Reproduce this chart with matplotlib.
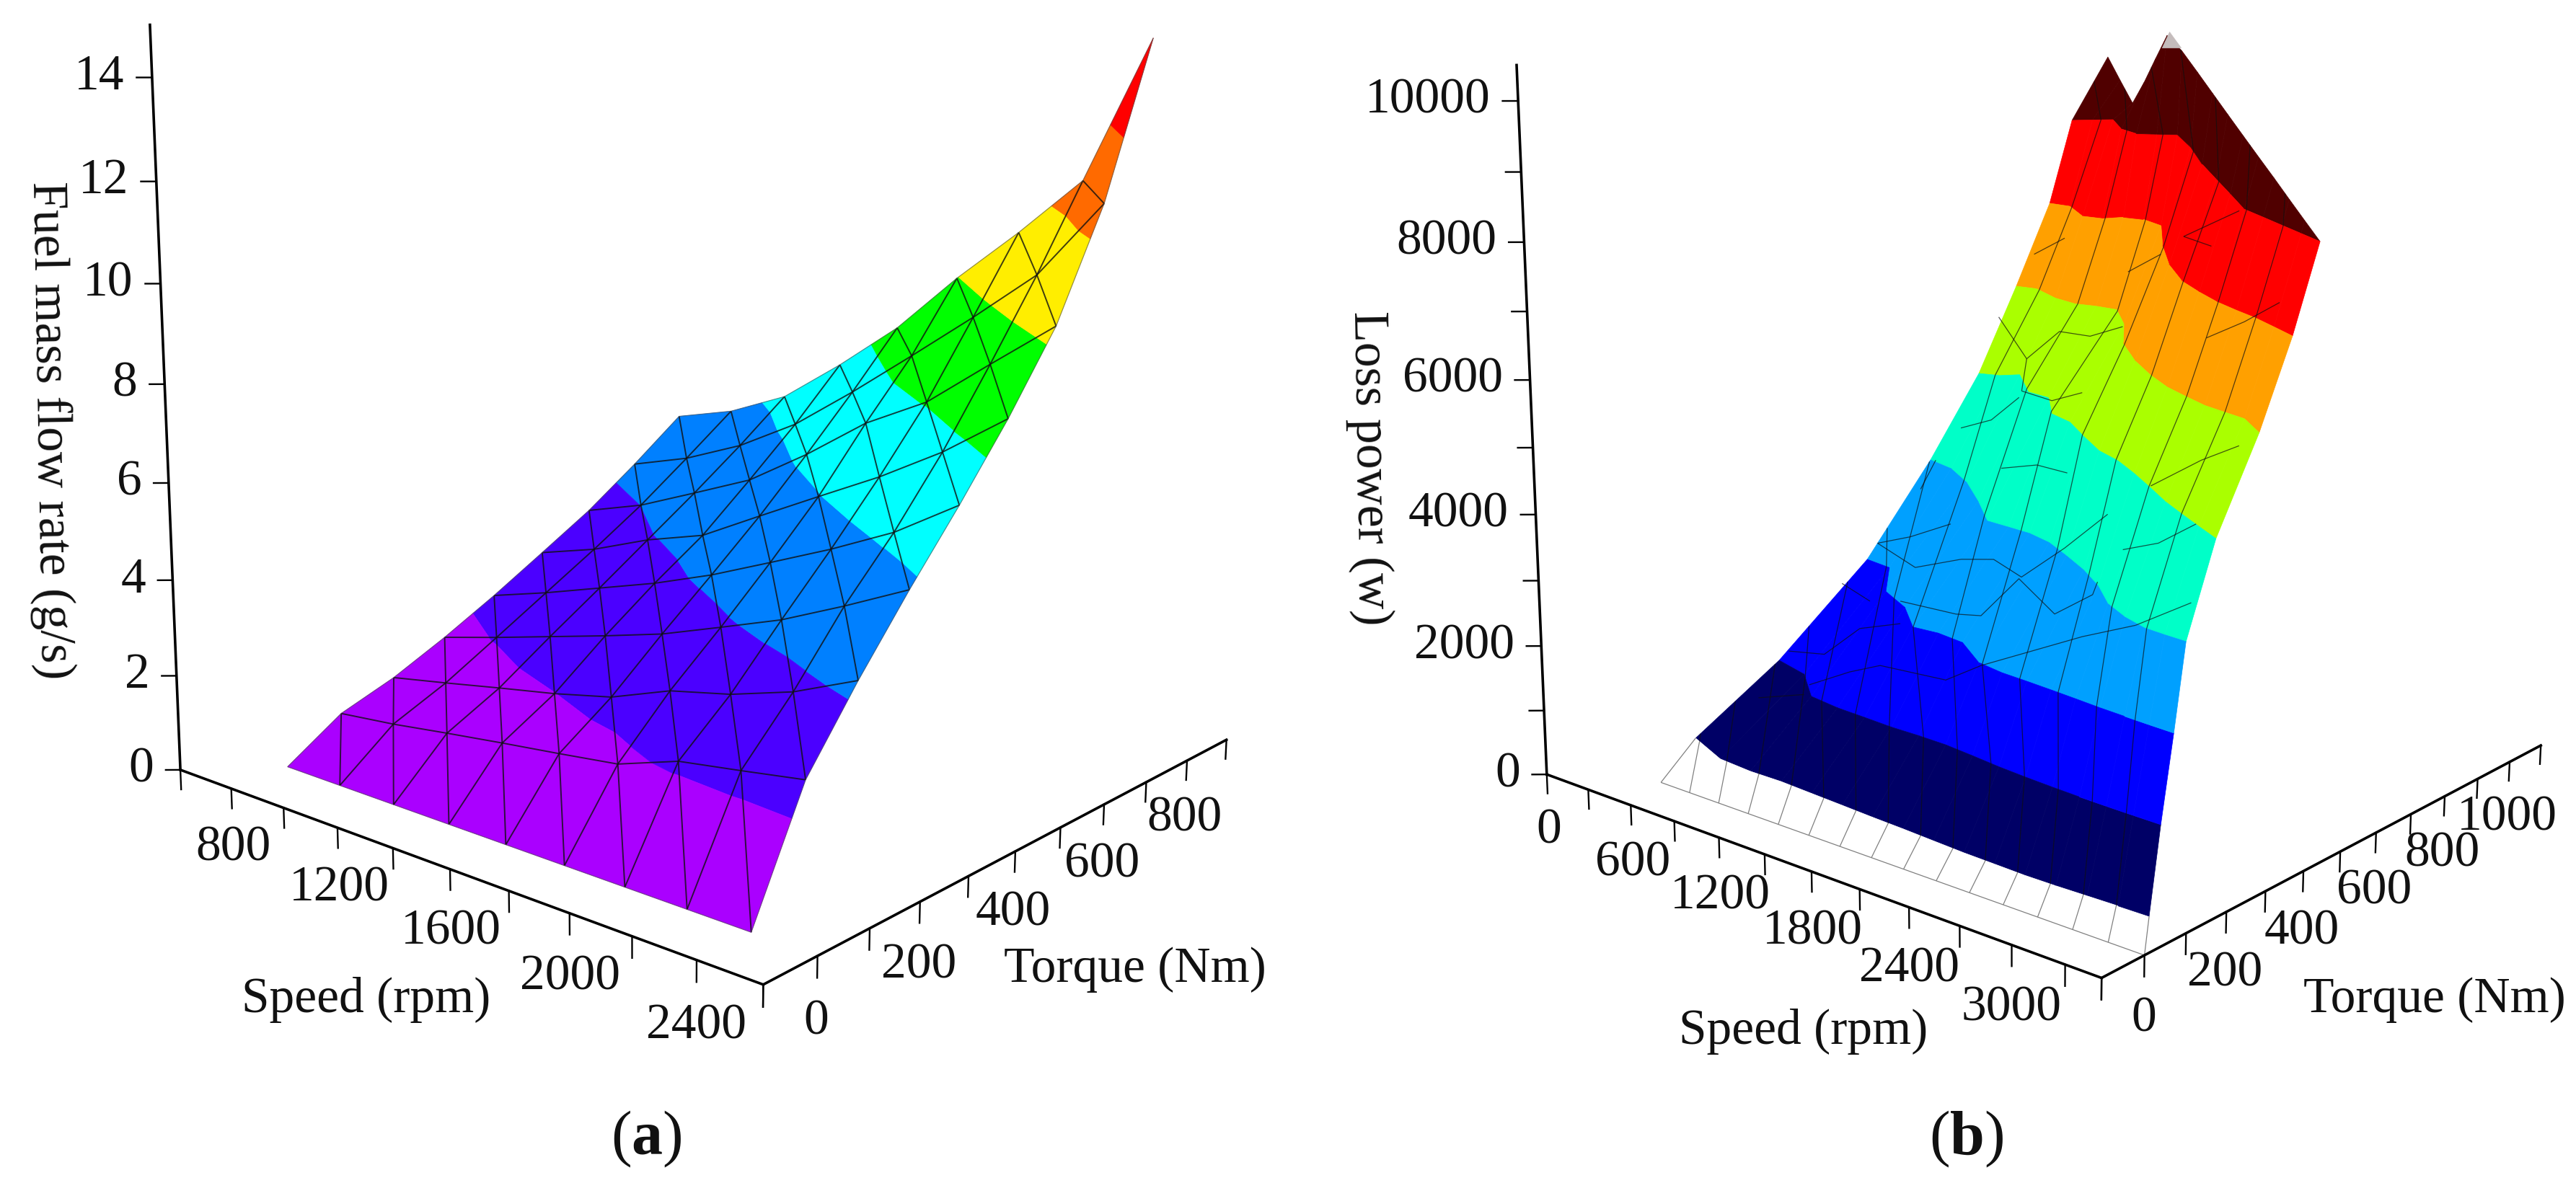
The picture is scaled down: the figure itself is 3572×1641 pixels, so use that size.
import numpy as np
import matplotlib
matplotlib.use('Agg')
from matplotlib import pyplot as plt
from mpl_toolkits.mplot3d.art3d import Poly3DCollection, Line3DCollection

W, H = 3572, 1641

# (a) fuel mass flow rate, rows = torque, columns = speed
speed_a = [800, 1000, 1200, 1400, 1600, 1800, 2000, 2200, 2400]
torque_a = [0, 100, 200, 300, 400, 500, 600, 700, 800]
flow_a = [
    [0, 0, 0, 0, 0, 0, 0, 0, 0],
    [0.7, 0.85, 1.04, 1.22, 1.39, 1.57, 2.02, 2.23, 2.45],
    [1.05, 1.3, 1.56, 1.81, 2.11, 2.61, 2.91, 3.33, 3.92],
    [1.52, 1.87, 2.24, 2.61, 3.0, 3.49, 3.99, 4.61, 5.27],
    [2.05, 2.45, 2.89, 3.33, 3.84, 4.43, 5.03, 5.69, 6.54],
    [2.63, 3.03, 3.56, 3.98, 4.71, 5.43, 6.14, 6.94, 7.89],
    [3.22, 3.65, 4.23, 4.82, 5.67, 6.62, 7.34, 8.38, 9.4],
    [3.93, 4.36, 4.94, 5.7, 6.68, 7.72, 8.78, 9.89, 11.54],
    [4.7, 5.1, 5.71, 6.69, 7.76, 9.07, 10.26, 11.54, 14.56],
]
levels_a = [0, 1.82, 3.64, 5.46, 7.28, 9.1, 10.92, 12.74, 15]
colors_a = ['#aa00ff', '#4b00ff', '#0080ff', '#00ffff', '#00ff00', '#ffee00', '#ff6a00', '#ff0000']

# (b) loss power, each row follows one colour band edge
speed_b = [500, 700, 900, 1100, 1300, 1500, 1700, 1900, 2100, 2300, 2500, 2700, 2900, 3100, 3300, 3500]
torque_b = [
    [0, 0, 0, 0, 0, 0, 0, 0, 0, 0, 0, 0, 0, 0, 0, 0],
    [82, 72, 74, 77, 78, 78, 76, 74, 70, 65, 59, 51, 43, 34, 23, 10],
    [284, 275, 221, 213, 206, 197, 188, 177, 164, 149, 133, 116, 98, 78, 57, 35],
    [508, 491, 408, 381, 326, 313, 296, 258, 236, 216, 194, 171, 146, 120, 92, 63],
    [676, 654, 618, 570, 515, 491, 465, 434, 396, 356, 308, 248, 205, 165, 127, 89],
    [808, 786, 761, 704, 677, 604, 569, 523, 478, 441, 397, 350, 301, 254, 206, 157],
    [912, 888, 859, 831, 805, 777, 711, 624, 569, 523, 479, 438, 397, 356, 314, 258],
    [1006, 981, 934, 906, 879, 849, 810, 727, 657, 603, 559, 516, 474, 430, 384, 336],
    [1069, 1044, 1018, 957, 913, 883, 852, 800, 742, 690, 637, 582, 539, 494, 448, 400],
    [1172, 1123, 1074, 1020, 964, 908, 861, 815, 767, 718, 668, 617, 565, 511, 456, 400],
]
loss_b = [
    [0, 0, 0, 0, 0, 0, 0, 0, 0, 0, 0, 0, 0, 0, 0, 0],
    [477, 332, 291, 282, 256, 236, 225, 219, 218, 223, 244, 274, 319, 376, 442, 515],
    [1205, 1148, 1080, 1069, 1087, 1112, 1157, 1201, 1227, 1259, 1308, 1368, 1437, 1521, 1613, 1712],
    [2315, 2349, 2285, 2231, 2189, 2264, 2300, 2231, 2276, 2345, 2419, 2495, 2578, 2673, 2778, 2891],
    [3585, 3605, 3571, 3489, 3418, 3496, 3580, 3633, 3644, 3652, 3661, 3671, 3714, 3796, 3928, 4066],
    [4753, 4863, 5025, 4958, 5024, 5016, 5065, 5044, 5035, 5077, 5095, 5109, 5128, 5172, 5228, 5294],
    [6007, 6096, 6086, 6135, 6236, 6324, 6309, 6255, 6200, 6174, 6183, 6231, 6286, 6378, 6476, 6505],
    [7223, 7292, 7282, 7369, 7513, 7606, 7653, 7551, 7469, 7406, 7412, 7433, 7481, 7545, 7596, 7653],
    [8490, 8599, 8708, 8708, 8764, 8867, 8973, 8926, 8826, 8756, 8694, 8641, 8674, 8712, 8755, 8805],
    [9402, 9148, 8904, 9363, 9854, 10335, 10217, 10019, 9832, 9654, 9486, 9328, 9181, 9044, 8919, 8805],
]
colors_b = ['#ffffff', '#000066', '#0000ff', '#00a0ff', '#00ffc8', '#aaff00', '#ffa000', '#ff0000', '#500000']
peak_b = [(1500, 914, 10385), (1500, 894, 10167), (1500, 947, 10111)]
mesh_b = [
    [(1900, 784, 7613), (2700, 569, 8637)], [(1900, 784, 7613), (2300, 680, 7798)],
    [(2700, 489, 6970), (3100, 402, 7537), (3300, 397, 7904)], [(700, 881, 6664), (900, 884, 7005)],
    [(1500, 807, 6860), (1900, 722, 7438)],
    [(500, 863, 5582), (900, 780, 5246), (1100, 788, 5768), (1300, 789, 5791), (1700, 708, 6273)],
    [(1100, 686, 5006), (1300, 686, 4961), (1700, 601, 5454)], [(900, 780, 5246), (1100, 686, 5006)],
    [(700, 681, 4207), (700, 763, 4183), (1100, 679, 4917)], [(900, 711, 3613), (1500, 565, 4303), (2100, 397, 4866)],
    [(2700, 352, 5124), (3100, 300, 5823), (3500, 209, 6424)], [(500, 649, 3162), (500, 690, 3554)],
    [(500, 535, 2519), (700, 546, 2725), (1100, 499, 3279)],
    [(500, 535, 2519), (700, 558, 2203), (1300, 448, 2963), (1500, 453, 3079), (1900, 364, 3266), (2100, 391, 3769), (2500, 331, 4641)],
    [(1100, 370, 2353), (1500, 357, 2453), (1700, 342, 2599), (1700, 438, 2945), (2500, 202, 3493), (2500, 295, 3559), (2500, 307, 3717)],
    [(2500, 370, 4046), (3100, 197, 4893), (3300, 199, 5276)], [(3100, 144, 3880), (3500, 100, 4561)],
    [(1900, 264, 2172), (2700, 186, 3345), (3100, 144, 3880)],
    [(900, 217, 1270), (1100, 244, 1549), (1300, 245, 1789), (1900, 178, 2166), (1900, 264, 2172)],
    [(500, 308, 1295), (700, 325, 1344), (900, 342, 1852), (1300, 295, 2313)],
    [(500, 232, 734), (900, 204, 1150)], [(500, 443, 2069), (900, 368, 2223)],
]
# how much the mesh lines of (b) fan out per row
fan_b = [1, 1.06, 1.26, 1.57, 1.88, 2.03, 1.98, 1.98, 1.94, 2.27]

plt.rcParams['font.family'] = ['Liberation Serif', 'DejaVu Serif']
plt.rcParams['mathtext.fontset'] = 'custom'
plt.rcParams['mathtext.bf'] = 'Liberation Serif:bold'
plt.rcParams['mathtext.rm'] = 'Liberation Serif'
FONT = 50

fig = plt.figure(figsize=(W / 100, H / 100), dpi=100)


# 建立三维坐标系, 并按像素放到图上
def make_axes(xlim, ylim, zlim, view, focal, box, scale, tx, ty):
    ax = fig.add_axes([0, 0, 1000 / W, 1000 / H], projection='3d')
    ax.set_axis_off()
    ax.patch.set_visible(False)
    ax.computed_zorder = False
    ax.set_xlim(*xlim)
    ax.set_ylim(*ylim)
    ax.set_zlim(*zlim)
    ax.view_init(elev=view[0], azim=view[1], roll=view[2])
    ax.set_proj_type('persp', focal_length=focal)
    ax.set_box_aspect(box)
    ax.apply_aspect()
    p0 = ax.transData.transform((0, 0))
    p1 = ax.transData.transform((1, 1))
    side = 1000 * scale / (p1 - p0)[0]
    x0 = tx - p0[0] * side / 1000
    y0 = ty - p0[1] * side / 1000
    ax.set_position([x0 / W, y0 / H, side / W, side / H])
    return ax


# 画坐标轴, 刻度, 刻度标签
def draw_frame(ax, xlim, ylim, zlim, xticks, xlabels, yticks, ylabels, zticks, zlabels, down, label_down, left):
    x0, x1 = xlim
    y0, y1 = ylim
    kw = dict(color='black', solid_capstyle='projecting', zorder=20)
    ax.plot([x0, x1], [y0, y0], [0, 0], lw=2.6, **kw)
    ax.plot([x1, x1], [y0, y1], [0, 0], lw=2.6, **kw)
    ax.plot([x0, x0], [y0, y0], [0, zlim[1]], lw=2.6, **kw)
    for v in xticks:
        ax.plot([v, v], [y0, y0], [0, -down], lw=1.7, **kw)
    for v in yticks:
        ax.plot([x1, x1], [v, v], [0, -down], lw=1.7, **kw)
    for v in zticks:
        ax.plot([x0, x0 + left[0]], [y0, y0 + left[1]], [v, v], lw=1.7, **kw)
    for v, s in xlabels:
        ax.text(v, y0, -label_down, s, ha='center', va='center', fontsize=FONT, color='#111111')
    for v, s in ylabels:
        ax.text(x1, v, -label_down, s, ha='center', va='center', fontsize=FONT, color='#111111')
    for v, s in zlabels:
        ax.text(x0 + 1.8 * left[0], y0 + 1.8 * left[1], v, s, ha='right', va='center', fontsize=FONT, color='#111111')


# 把三角形裁剪到 lo<=z<=hi
def clip_band(tri, lo, hi):
    poly = [np.array(p, float) for p in tri]
    for level, sign in ((lo, 1), (hi, -1)):
        out = []
        for k in range(len(poly)):
            a, b = poly[k], poly[(k + 1) % len(poly)]
            da, db = sign * (a[2] - level), sign * (b[2] - level)
            if da >= 0:
                out.append(a)
            if da * db < 0:
                out.append(a + (b - a) * da / (da - db))
        poly = out
        if not poly:
            return []
    return poly


# (b) 的网格线: 从底边每个点出发, 到左边界为止
def fan_line(Q, k):
    pts = [Q[0, k]]
    last = float(k)
    for j in range(1, Q.shape[0]):
        f = 15 - (15 - k) * fan_b[j]
        if f < 0:
            r = last / (last - f)
            pts.append(Q[j - 1, 0] + (Q[j, 0] - Q[j - 1, 0]) * r)
            break
        lo = int(f)
        hi = min(lo + 1, 15)
        pts.append(Q[j, lo] + (Q[j, hi] - Q[j, lo]) * (f - lo))
        last = f
    return np.array(pts)


# ---------- (a) ----------
xlim_a, ylim_a, zlim_a = (600, 2600), (-100, 900), (0, 15)
ax_a = make_axes(xlim_a, ylim_a, zlim_a, (15.6806, -50.0959, -0.2969), 0.4803, (1.0013, 1.0048, 1), 9636.92, 987.89, 1088.35)
Xa, Ya = np.meshgrid(speed_a, torque_a)
Za = np.array(flow_a)
polys, cols = [], []
ny, nx = Za.shape
for j in range(ny - 1):
    for i in range(nx - 1):
        pts = [(Xa[j, i], Ya[j, i], Za[j, i]), (Xa[j, i + 1], Ya[j, i + 1], Za[j, i + 1]),
               (Xa[j + 1, i], Ya[j + 1, i], Za[j + 1, i]), (Xa[j + 1, i + 1], Ya[j + 1, i + 1], Za[j + 1, i + 1])]
        for tri in ([pts[0], pts[1], pts[2]], [pts[1], pts[3], pts[2]]):
            for b in range(len(colors_a)):
                poly = clip_band(tri, levels_a[b], levels_a[b + 1])
                if len(poly) >= 3:
                    polys.append(poly)
                    cols.append(colors_a[b])
pc = Poly3DCollection(polys, facecolors=cols, edgecolors=cols, linewidths=0.5, zorder=2)
ax_a.add_collection3d(pc, autolim=False)

segs = []
P = np.dstack([Xa, Ya, Za])
for j in range(1, ny - 1):
    segs.extend([[P[j, i], P[j, i + 1]] for i in range(nx - 1)])
for i in range(1, nx - 1):
    segs.extend([[P[j, i], P[j + 1, i]] for j in range(ny - 1)])
for j in range(ny - 1):
    segs.extend([[P[j, i], P[j + 1, i - 1]] for i in range(1, nx)])
ax_a.add_collection3d(Line3DCollection(segs, colors='#101010', linewidths=1.4, alpha=0.8, zorder=3), autolim=False)
edge = [P[0, :], P[:, -1], P[-1, :], P[:, 0]]
ax_a.add_collection3d(Line3DCollection(edge, colors='#505050', linewidths=0.9, alpha=0.6, zorder=3), autolim=False)

draw_frame(ax_a, xlim_a, ylim_a, zlim_a,
           list(range(600, 2601, 200)), [(v, str(v)) for v in (800, 1200, 1600, 2000, 2400)],
           list(range(-100, 901, 100)), [(v, str(v)) for v in (0, 200, 400, 600, 800)],
           list(range(0, 15, 2)), [(v, str(v)) for v in range(0, 15, 2)],
           0.42, 1.27, (-29, -12.8))
ax_a.set_xlim(*xlim_a); ax_a.set_ylim(*ylim_a); ax_a.set_zlim(*zlim_a)

# ---------- (b) ----------
xlim_b, ylim_b, zlim_b = (0, 3500), (-100, 1100), (0, 10500)
ax_b = make_axes(xlim_b, ylim_b, zlim_b, (15.7724, -50.0226, -0.1837), 0.4856, (1.0007, 0.9981, 1), 9165.0, 2844.42, 1058.01)
Tb = np.array(torque_b)
Zb = np.array(loss_b)
Sb = np.tile(speed_b, (Zb.shape[0], 1))
Q = np.dstack([Sb, Tb, Zb]).astype(float)
polys, cols = [], []
for j in range(Zb.shape[0] - 1):
    for i in range(Zb.shape[1] - 1):
        polys.append([Q[j, i], Q[j, i + 1], Q[j + 1, i + 1], Q[j + 1, i]])
        cols.append(colors_b[j])
ax_b.add_collection3d(Poly3DCollection(polys, facecolors=cols, edgecolors=cols, linewidths=0.5, zorder=2), autolim=False)
ax_b.add_collection3d(Poly3DCollection([peak_b], facecolors='#c4bcbc', edgecolors='#c4bcbc', linewidths=0.5, zorder=2.5), autolim=False)

fans = [fan_line(Q, k) for k in range(1, 15)]
segs = [f[1:] for f in fans if len(f) > 2]
segs += [np.array(l, float) for l in mesh_b]
ax_b.add_collection3d(Line3DCollection(segs, colors='#101010', linewidths=0.9, alpha=0.7, zorder=3), autolim=False)
edge = [Q[0, :], Q[:2, 0], Q[:2, -1]] + [f[:2] for f in fans]
ax_b.add_collection3d(Line3DCollection(edge, colors='#808080', linewidths=0.9, zorder=3), autolim=False)

draw_frame(ax_b, xlim_b, ylim_b, zlim_b,
           list(range(0, 3301, 300)) + [3500], [(v, str(v)) for v in (0, 600, 1200, 1800, 2400, 3000)],
           list(range(-100, 1101, 100)), [(v, str(v)) for v in (0, 200, 400, 600, 800, 1000)],
           list(range(0, 10001, 1000)), [(v, str(v)) for v in range(0, 10001, 2000)],
           300, 900, (-53.7, -16.2))
ax_b.set_xlim(*xlim_b); ax_b.set_ylim(*ylim_b); ax_b.set_zlim(*zlim_b)


def px_text(x, y, s, size=FONT, **kw):
    fig.text(x / W, 1 - y / H, s, ha='center', va='center', fontsize=size, color='#111111', **kw)


px_text(508, 1387, 'Speed (rpm)')
px_text(1574, 1345, 'Torque (Nm)')
px_text(69, 597, 'Fuel mass flow rate (g/s)', rotation=-89)
px_text(896, 1580, r'($\mathbf{a}$)', size=62)
px_text(2501, 1431, 'Speed (rpm)')
px_text(3376, 1387, 'Torque (Nm)')
px_text(1899, 649, 'Loss power (w)', rotation=-89)
px_text(2727, 1580, r'($\mathbf{b}$)', size=62)

fig.savefig('out.png', dpi=100)
